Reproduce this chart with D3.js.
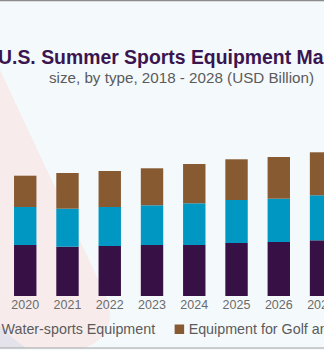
<!DOCTYPE html>
<html>
<head>
<meta charset="utf-8">
<script src="https://cdn.jsdelivr.net/npm/d3@7"></script>
<style>
  html, body { margin: 0; padding: 0; background: #f4f9fc; }
  svg { display: block; font-family: "Liberation Sans", Arial, sans-serif; }
</style>
</head>
<body>
<div id="chart"></div>
<script>
// values in USD Billion (2018, 2019 and 2028 fall outside the crop)
var years = ["2020", "2021", "2022", "2023", "2024", "2025", "2026", "2027"];
var baseSeries = [5.1, 4.93, 5.0, 5.1, 5.1, 5.3, 5.4, 5.57];
var waterSports = [3.8, 3.8, 3.9, 3.97, 4.17, 4.3, 4.33, 4.5];
var golfEquipment = [3.13, 3.57, 3.6, 3.7, 3.93, 4.07, 4.17, 4.3];

var seriesKeys = ["base", "water", "golf"];
var seriesColors = ["#371046", "#0097c3", "#875a32"];
var legendLabels = ["Water-sports Equipment", "Equipment for Golf and Other Sports"];
var legendColors = ["#0097c3", "#875a32"];

var titleLine1 = "U.S. Summer Sports Equipment Market";
var titleLine2 = "size, by type, 2018 - 2028 (USD Billion)";

var width = 324, height = 350;

var svg = d3.select("#chart").append("svg")
    .attr("width", width)
    .attr("height", height);

// background + decorative shapes
svg.append("rect")
    .attr("width", width)
    .attr("height", height)
    .attr("fill", "#f4f9fc");

svg.append("path")
    .attr("d", "M0,70 L104,292 C117,320 108,340 84,348 L22,348 C12,342 5,336 0,330 Z")
    .attr("fill", "#f7ebeb");

svg.append("path")
    .attr("d", "M0,326 C8,334 16,341 26,348 L0,348 Z")
    .attr("fill", "#e4e2ea");

svg.append("line")
    .attr("x1", 0).attr("x2", width)
    .attr("y1", 0.5).attr("y2", 0.5)
    .attr("stroke", "#8c8c8c")
    .attr("stroke-width", 1.5);

svg.append("line")
    .attr("x1", 0).attr("x2", width)
    .attr("y1", 348).attr("y2", 348)
    .attr("stroke", "#a0a0a0")
    .attr("stroke-width", 1);

// title (centred on the full original chart, so it runs past the right edge)
svg.append("text")
    .attr("x", 178.5)
    .attr("y", 64)
    .attr("text-anchor", "middle")
    .attr("font-size", 19.4)
    .attr("font-weight", "bold")
    .attr("fill", "#3a1550")
    .text(titleLine1);

svg.append("text")
    .attr("x", 181.5)
    .attr("y", 83)
    .attr("text-anchor", "middle")
    .attr("font-size", 15.2)
    .attr("fill", "#5b5b5b")
    .text(titleLine2);

// scales
var x = d3.scaleBand()
    .domain(years)
    .range([4.1, 4.1 + 8 * 42.26])
    .paddingInner(0.47)
    .paddingOuter(0.235);

var y = d3.scaleLinear()
    .domain([0, 16])
    .range([296, 136]);

var table = years.map(function(yr, i) {
    return { year: yr, base: baseSeries[i], water: waterSports[i], golf: golfEquipment[i] };
});

var stacked = d3.stack().keys(seriesKeys)(table);

svg.append("g")
    .selectAll("g")
    .data(stacked)
    .enter()
    .append("g")
    .attr("fill", function(d, i) { return seriesColors[i]; })
    .selectAll("rect")
    .data(function(d) { return d; })
    .enter()
    .append("rect")
    .attr("x", function(d) { return x(d.data.year); })
    .attr("y", function(d) { return y(d[1]); })
    .attr("width", x.bandwidth())
    .attr("height", function(d) { return y(d[0]) - y(d[1]); });

// x axis (labels only)
var xAxis = d3.axisBottom(x).tickSize(0).tickPadding(0);
var gx = svg.append("g")
    .attr("transform", "translate(0,300)")
    .call(xAxis);
gx.select(".domain").remove();
gx.selectAll("text")
    .attr("dy", "0.71em")
    .attr("y", 0)
    .attr("font-size", 12.5)
    .attr("font-family", "Liberation Sans, Arial, sans-serif")
    .attr("fill", "#6b6b6b");

// legend
var legend = svg.append("g").attr("transform", "translate(0,334)");
var lx = -12.5;
legendLabels.forEach(function(label, i) {
    legend.append("rect")
        .attr("x", lx)
        .attr("y", -9.5)
        .attr("width", 9.5)
        .attr("height", 9.5)
        .attr("fill", legendColors[i]);
    var t = legend.append("text")
        .attr("x", lx + 14)
        .attr("y", 0)
        .attr("font-size", 14.3)
        .attr("fill", "#5b5b5b")
        .text(label);
    lx += 14 + t.node().getComputedTextLength() + 19.5;
});
</script>
</body>
</html>
